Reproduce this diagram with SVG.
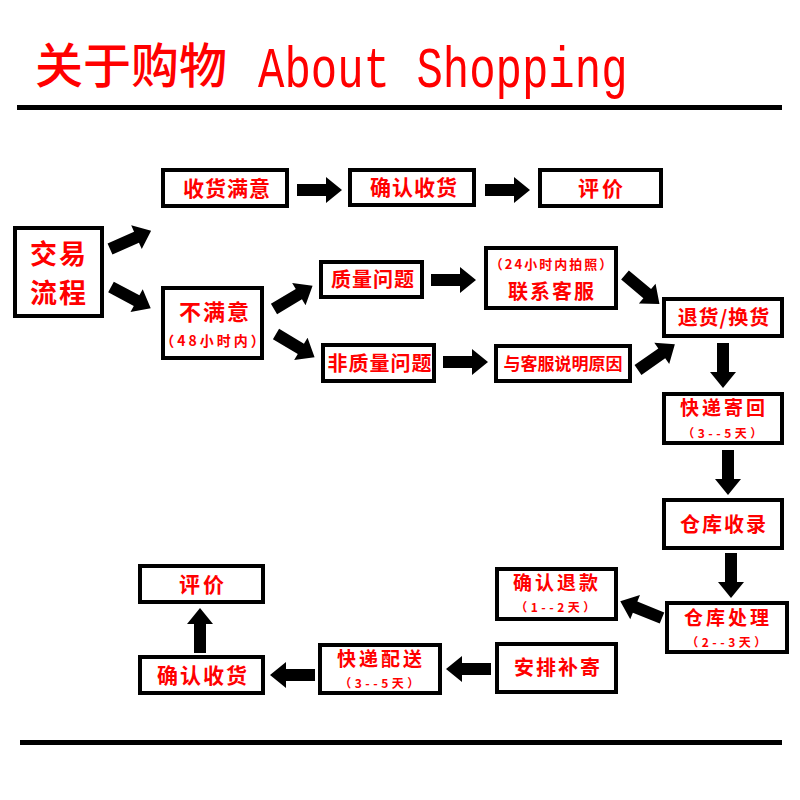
<svg xmlns="http://www.w3.org/2000/svg" xmlns:xlink="http://www.w3.org/1999/xlink" width="800" height="800" viewBox="0 0 800 800">
<style>
.box{fill:#fff;stroke:#000;stroke-width:4}
.t{font-family:"Noto Sans CJK SC","Noto Sans CJK JP",sans-serif;font-weight:bold;fill:#f00;text-anchor:middle}
.s{font-size:13px;letter-spacing:2px}
.sub{font-size:12px;letter-spacing:3.5px}
.m{font-size:20px;letter-spacing:1px}
.arr{fill:#000}
</style>
<defs>
<path id="arr" d="M0,-6 L29,-6 L29,-13 L45,0 L29,13 L29,6 L0,6 Z"/>
</defs>
<rect width="800" height="800" fill="#fff"/>
<g id="header">
<text x="35" y="83" style="font-family:'Noto Sans CJK SC',sans-serif;font-size:48px;font-weight:500;fill:#f00">关于购物</text>
<text transform="translate(258,87) scale(1,1.3)" style="font-family:'Liberation Mono',monospace;font-size:44px;fill:#f00">About Shopping</text>
<rect x="17" y="105" width="765" height="5" fill="#000"/>
</g>
<g id="n_start"><rect class="box" x="15" y="228" width="87" height="88"/><text class="t" x="59" y="264" style="font-size:27px;letter-spacing:2px">交易</text><text class="t" x="59" y="303" style="font-size:27px;letter-spacing:2px">流程</text></g>
<g id="n_satisfied"><rect class="box" x="163" y="170" width="124" height="36"/><text class="t m" x="227" y="196" style="font-size:21px">收货满意</text></g>
<g id="n_confirm1"><rect class="box" x="350" y="170" width="124" height="35"/><text class="t m" x="414" y="195" style="font-size:21px">确认收货</text></g>
<g id="n_review1"><rect class="box" x="540" y="170" width="121" height="36"/><text class="t m" x="602" y="196" style="font-size:21px;letter-spacing:3px">评价</text></g>
<g id="n_unsatisfied"><rect class="box" x="163" y="288" width="99" height="70"/><text class="t" x="215" y="320" style="font-size:22px;letter-spacing:2px">不满意</text><text class="t" x="214" y="346" style="font-size:14px;letter-spacing:3px">（48小时内）</text></g>
<g id="n_quality"><rect class="box" x="321" y="262" width="101" height="35"/><text class="t m" x="373" y="287">质量问题</text></g>
<g id="n_contact"><rect class="box" x="486" y="248" width="130" height="60"/><text class="t s" x="552" y="269">（24小时内拍照）</text><text class="t m" x="552" y="299" style="letter-spacing:2px">联系客服</text></g>
<g id="n_return"><rect class="box" x="664" y="299" width="118" height="37"/><text class="t m" x="724" y="325">退货/换货</text></g>
<g id="n_nonquality"><rect class="box" x="323" y="345" width="111" height="36"/><text class="t m" x="380" y="371">非质量问题</text></g>
<g id="n_explain"><rect class="box" x="496" y="346" width="134" height="35"/><text class="t" x="563" y="370" style="font-size:17px">与客服说明原因</text></g>
<g id="n_sendback"><rect class="box" x="664" y="394" width="118" height="49"/><text class="t m" x="724" y="415" style="font-size:19px;letter-spacing:3px">快递寄回</text><text class="t sub" x="724" y="438">（3--5天）</text></g>
<g id="n_receive"><rect class="box" x="664" y="500" width="118" height="48"/><text class="t m" x="724" y="532" style="letter-spacing:2px">仓库收录</text></g>
<g id="n_process"><rect class="box" x="667" y="603" width="120" height="49"/><text class="t m" x="728" y="625" style="font-size:19px;letter-spacing:3px">仓库处理</text><text class="t sub" x="728" y="647">（2--3天）</text></g>
<g id="n_refund"><rect class="box" x="497" y="569" width="119" height="50"/><text class="t m" x="557" y="590" style="font-size:19px;letter-spacing:3px">确认退款</text><text class="t sub" x="557" y="612">（1--2天）</text></g>
<g id="n_resend"><rect class="box" x="497" y="644" width="119" height="48"/><text class="t m" x="558" y="675" style="letter-spacing:2px">安排补寄</text></g>
<g id="n_deliver"><rect class="box" x="320" y="645" width="120" height="48"/><text class="t m" x="381" y="666" style="font-size:19px;letter-spacing:3px">快递配送</text><text class="t sub" x="381" y="688">（3--5天）</text></g>
<g id="n_confirm2"><rect class="box" x="140" y="657" width="123" height="36"/><text class="t m" x="203" y="683" style="font-size:21px;letter-spacing:2px">确认收货</text></g>
<g id="n_review2"><rect class="box" x="140" y="566" width="123" height="36"/><text class="t m" x="203" y="592" style="font-size:21px;letter-spacing:3px">评价</text></g>
<g id="connectors" class="arr">
<use xlink:href="#arr" transform="translate(110,249) rotate(-24)"/>
<use xlink:href="#arr" transform="translate(111,287) rotate(28)"/>
<use xlink:href="#arr" transform="translate(297,190)"/>
<use xlink:href="#arr" transform="translate(485,190)"/>
<use xlink:href="#arr" transform="translate(274,309) rotate(-31)"/>
<use xlink:href="#arr" transform="translate(276,334) rotate(31)"/>
<use xlink:href="#arr" transform="translate(431,280)"/>
<use xlink:href="#arr" transform="translate(443,362)"/>
<use xlink:href="#arr" transform="translate(625,275) rotate(40)"/>
<use xlink:href="#arr" transform="translate(638,370) rotate(-35)"/>
<use xlink:href="#arr" transform="translate(723,343) rotate(90)"/>
<use xlink:href="#arr" transform="translate(728,450) rotate(90)"/>
<use xlink:href="#arr" transform="translate(731,553) rotate(90)"/>
<use xlink:href="#arr" transform="translate(662,618) rotate(-158)"/>
<use xlink:href="#arr" transform="translate(491,669) rotate(180)"/>
<use xlink:href="#arr" transform="translate(315,675) rotate(180)"/>
<use xlink:href="#arr" transform="translate(200,653) rotate(-90)"/>
</g>
<rect x="20" y="740" width="762" height="5" fill="#000"/>
</svg>
